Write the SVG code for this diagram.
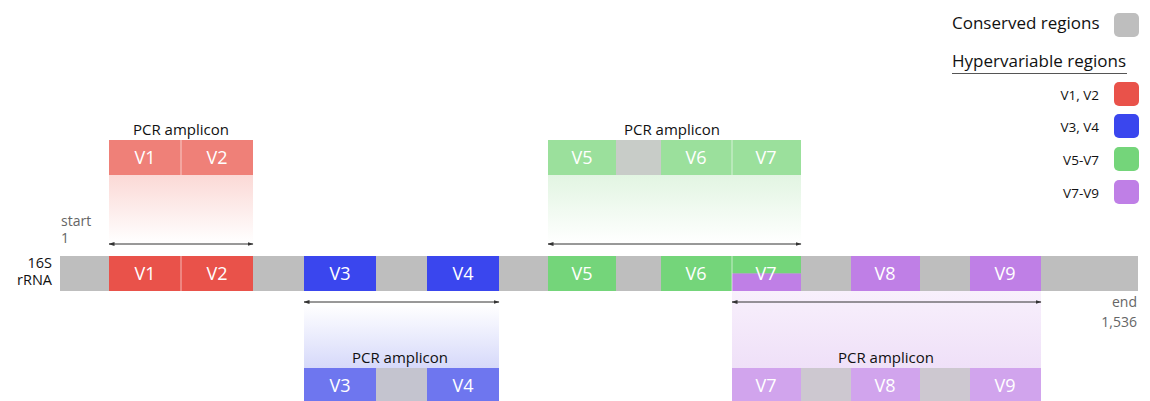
<svg xmlns="http://www.w3.org/2000/svg" width="1150" height="401" viewBox="0 0 1150 401">
  <style>
    .lbl{font-family:"Open Sans","Liberation Sans",sans-serif;font-size:18px;fill:#fff;text-anchor:middle}
    .amp{font-family:"Open Sans","Liberation Sans",sans-serif;font-size:15px;fill:#111;text-anchor:middle}
    .note{font-family:"Open Sans","Liberation Sans",sans-serif;font-size:14px;fill:#666}
    .leg{font-family:"Open Sans","Liberation Sans",sans-serif;font-size:17px;fill:#111}
    .legs{font-family:"Open Sans","Liberation Sans",sans-serif;font-size:13.5px;fill:#111;text-anchor:end}
    .side{font-family:"Open Sans","Liberation Sans",sans-serif;font-size:14.5px;fill:#111;text-anchor:end}
    .sep{stroke:#fff;stroke-opacity:0.6;stroke-width:1}
    .span{stroke:#333;stroke-width:1;fill:none;marker-start:url(#tip);marker-end:url(#tip)}
  </style>
  <defs>
    <marker id="tip" viewBox="0 0 6 6" refX="5.5" refY="3" markerWidth="6" markerHeight="6" orient="auto-start-reverse" markerUnits="userSpaceOnUse">
      <path d="M0,1 L6,3 L0,5 z" fill="#333"/>
    </marker>
    <linearGradient id="fadeRed" x1="0" y1="0" x2="0" y2="1">
      <stop offset="0" stop-color="#fbd9d6"/>
      <stop offset="1" stop-color="#fff"/>
    </linearGradient>
    <linearGradient id="fadeGreen" x1="0" y1="0" x2="0" y2="1">
      <stop offset="0" stop-color="#e2f5e2"/>
      <stop offset="1" stop-color="#fff"/>
    </linearGradient>
    <linearGradient id="fadeBlue" x1="0" y1="0" x2="0" y2="1">
      <stop offset="0" stop-color="#fff"/>
      <stop offset="1" stop-color="#d6d9fa"/>
    </linearGradient>
    <linearGradient id="fadePurple" x1="0" y1="0" x2="0" y2="1">
      <stop offset="0" stop-color="#f8f0fc"/>
      <stop offset="1" stop-color="#efe0f8"/>
    </linearGradient>
  </defs>

  <!-- legend -->
  <g id="legend">
    <text class="leg" x="952" y="29">Conserved regions</text>
    <rect x="1114" y="13" width="25" height="24" rx="5" fill="#bebebe"/>
    <text class="leg" x="952" y="67">Hypervariable regions</text>
    <line x1="952" y1="73.5" x2="1127" y2="73.5" stroke="#555" stroke-width="1"/>
    <text class="legs" x="1099" y="100">V1, V2</text>
    <rect x="1114" y="82" width="25" height="24" rx="5" fill="#e9524a"/>
    <text class="legs" x="1099" y="132">V3, V4</text>
    <rect x="1114" y="114" width="25" height="24" rx="5" fill="#3a46ee"/>
    <text class="legs" x="1099" y="165">V5-V7</text>
    <rect x="1114" y="147" width="25" height="24" rx="5" fill="#74d57a"/>
    <text class="legs" x="1099" y="198">V7-V9</text>
    <rect x="1114" y="180" width="25" height="24" rx="5" fill="#bf7fe6"/>
  </g>

  <!-- 16S rRNA gene bar -->
  <g id="rrna">
    <text class="side" x="52" y="268">16S</text>
    <text class="side" x="52" y="285">rRNA</text>
    <rect x="60" y="256" width="1078" height="35" fill="#bebebe"/>
    <rect x="109" y="256" width="72" height="35" fill="#e9524a"/>
    <rect x="181" y="256" width="72" height="35" fill="#e9524a"/>
    <rect x="304" y="256" width="72" height="35" fill="#3a46ee"/>
    <rect x="427" y="256" width="72" height="35" fill="#3a46ee"/>
    <rect x="548" y="256" width="68" height="35" fill="#74d57a"/>
    <rect x="661" y="256" width="71" height="35" fill="#74d57a"/>
    <rect x="732" y="256" width="69" height="17.5" fill="#74d57a"/>
    <rect x="732" y="273.5" width="69" height="17.5" fill="#bf7fe6"/>
    <rect x="851" y="256" width="69" height="35" fill="#bf7fe6"/>
    <rect x="970" y="256" width="71" height="35" fill="#bf7fe6"/>
    <line class="sep" x1="181" y1="256" x2="181" y2="291"/>
    <line class="sep" x1="732" y1="256" x2="732" y2="291"/>
    <text class="lbl" x="145" y="280">V1</text>
    <text class="lbl" x="217" y="280">V2</text>
    <text class="lbl" x="340" y="280">V3</text>
    <text class="lbl" x="463" y="280">V4</text>
    <text class="lbl" x="582" y="280">V5</text>
    <text class="lbl" x="696" y="280">V6</text>
    <text class="lbl" x="766" y="280">V7</text>
    <text class="lbl" x="885" y="280">V8</text>
    <text class="lbl" x="1005" y="280">V9</text>
    <text class="note" x="61" y="226">start</text>
    <text class="note" x="61" y="243">1</text>
    <text class="note" x="1137" y="307" text-anchor="end">end</text>
    <text class="note" x="1137" y="327" text-anchor="end">1,536</text>
  </g>

  <!-- amplicon V1-V2 -->
  <g id="amplicon-v1v2">
    <rect x="109" y="175" width="144" height="68" fill="url(#fadeRed)"/>
    <text class="amp" x="181" y="135">PCR amplicon</text>
    <rect x="109" y="140" width="72" height="35" fill="#ef8078"/>
    <rect x="181" y="140" width="72" height="35" fill="#ef8078"/>
    <line class="sep" x1="181" y1="140" x2="181" y2="175"/>
    <text class="lbl" x="145" y="164">V1</text>
    <text class="lbl" x="217" y="164">V2</text>
  </g>

  <!-- amplicon V5-V7 -->
  <g id="amplicon-v5v7">
    <rect x="548" y="175" width="253" height="68" fill="url(#fadeGreen)"/>
    <text class="amp" x="672" y="135">PCR amplicon</text>
    <rect x="548" y="140" width="68" height="35" fill="#9be09c"/>
    <rect x="616" y="140" width="45" height="35" fill="#c8ccc8"/>
    <rect x="661" y="140" width="71" height="35" fill="#9be09c"/>
    <rect x="732" y="140" width="69" height="35" fill="#9be09c"/>
    <line class="sep" x1="732" y1="140" x2="732" y2="175"/>
    <text class="lbl" x="582" y="164">V5</text>
    <text class="lbl" x="696" y="164">V6</text>
    <text class="lbl" x="766" y="164">V7</text>
  </g>

  <!-- amplicon V3-V4 -->
  <g id="amplicon-v3v4">
    <rect x="304" y="305" width="195" height="63" fill="url(#fadeBlue)"/>
    <text class="amp" x="400" y="363">PCR amplicon</text>
    <rect x="304" y="368" width="72" height="33" fill="#6e76ef"/>
    <rect x="376" y="368" width="51" height="33" fill="#c4c4cf"/>
    <rect x="427" y="368" width="72" height="33" fill="#6e76ef"/>
    <text class="lbl" x="340" y="392">V3</text>
    <text class="lbl" x="463" y="392">V4</text>
  </g>

  <!-- amplicon V7-V9 -->
  <g id="amplicon-v7v9">
    <rect x="732" y="291" width="309" height="77" fill="url(#fadePurple)"/>
    <text class="amp" x="886" y="363">PCR amplicon</text>
    <rect x="732" y="368" width="69" height="33" fill="#d1a4ed"/>
    <rect x="801" y="368" width="50" height="33" fill="#cdc8d0"/>
    <rect x="851" y="368" width="69" height="33" fill="#d1a4ed"/>
    <rect x="920" y="368" width="50" height="33" fill="#cdc8d0"/>
    <rect x="970" y="368" width="71" height="33" fill="#d1a4ed"/>
    <text class="lbl" x="766" y="392">V7</text>
    <text class="lbl" x="885" y="392">V8</text>
    <text class="lbl" x="1005" y="392">V9</text>
  </g>

  <!-- span arrows -->
  <g id="connectors">
    <line class="span" x1="109" y1="244" x2="253" y2="244"/>
    <line class="span" x1="548" y1="244" x2="801" y2="244"/>
    <line class="span" x1="304" y1="302" x2="499" y2="302"/>
    <line class="span" x1="732" y1="302" x2="1041" y2="302"/>
  </g>
</svg>
